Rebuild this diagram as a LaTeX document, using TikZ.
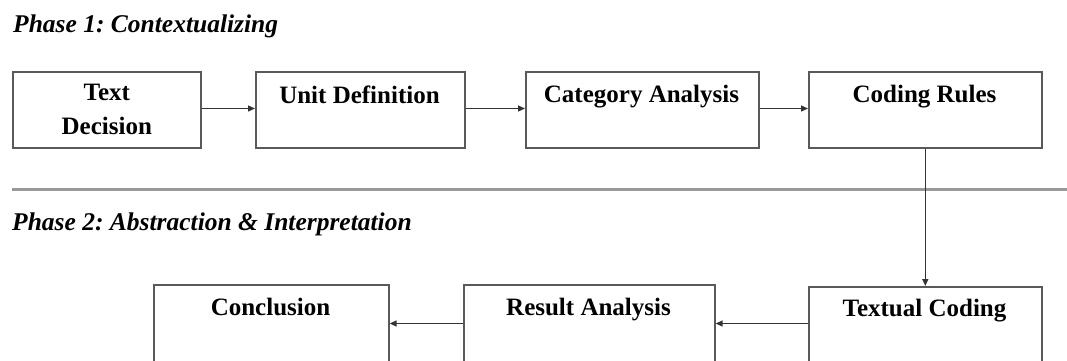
\documentclass[tikz,border=0pt]{standalone}
\usepackage{fontspec}
\setmainfont{Liberation Serif}
\usetikzlibrary{arrows.meta}
\definecolor{boxgray}{gray}{0.35}
\definecolor{rulegray}{gray}{0.6}
\definecolor{arrgray}{gray}{0.2}
\frenchspacing
\begin{document}
\begin{tikzpicture}[x=1pt,y=-1pt,
  box/.style={draw=boxgray, line width=1.6pt, rectangle, inner sep=0pt, anchor=north west, minimum height=76pt},
  lowbox/.style={box, minimum height=92pt},
  lbl/.style={font=\fontsize{25}{34}\selectfont\bfseries, anchor=base, inner sep=0pt},
  ttl/.style={font=\fontsize{25.5}{30}\selectfont\bfseries\itshape, anchor=base west, inner sep=0pt},
  arr/.style={draw=arrgray, line width=1.3pt, -{Triangle[length=7pt,width=6pt]}}]
\useasboundingbox (0,0) rectangle (1067,361);
\clip (0,0) rectangle (1067,361);

% titles
\node[ttl] (t1) at (13,33) {Phase 1: Contextualizing};
\node[ttl] (t2) at (12,230) {Phase 2: Abstraction \& Interpretation};

% separator
\coordinate (sepL) at (12,189);
\coordinate (sepR) at (1070,189);
\draw[rulegray, line width=3pt] (sepL) -- (sepR);

% top row
\node[box, minimum width=188pt, align=center, font=\fontsize{25}{34}\selectfont\bfseries] (td) at (12,71) {Text\\Decision};
\node[box, minimum width=209pt] (ud) at (255,71) {};
\node[box, minimum width=233pt] (ca) at (525,71) {};
\node[box, minimum width=233pt] (cr) at (808,71) {};
\node[lbl] (udl) at (359.5,103) {Unit Definition};
\node[lbl] (cal) at (641.5,102.5) {Category Analysis};
\node[lbl] (crl) at (924.5,102.5) {Coding Rules};

% bottom row
\node[lowbox, minimum width=233pt] (tc) at (808,286) {};
\node[lowbox, minimum width=251pt] (ra) at (463,284) {};
\node[lowbox, minimum width=235pt] (co) at (153,284) {};
\node[lbl] (tcl) at (924.5,316) {Textual Coding};
\node[lbl] (ral) at (588.5,315) {Result Analysis};
\node[lbl] (col) at (270.5,315) {Conclusion};

% connectors
\coordinate (rowA) at (0,108.5);
\coordinate (rowB) at (0,323.5);
\draw[arr] (td.east |- rowA) -- (ud.west |- rowA);
\draw[arr] (ud.east |- rowA) -- (ca.west |- rowA);
\draw[arr] (ca.east |- rowA) -- (cr.west |- rowA);
\draw[arr] (cr.south) -- (tc.north);
\draw[arr] (tc.west |- rowB) -- (ra.east |- rowB);
\draw[arr] (ra.west |- rowB) -- (co.east |- rowB);
\end{tikzpicture}
\end{document}
